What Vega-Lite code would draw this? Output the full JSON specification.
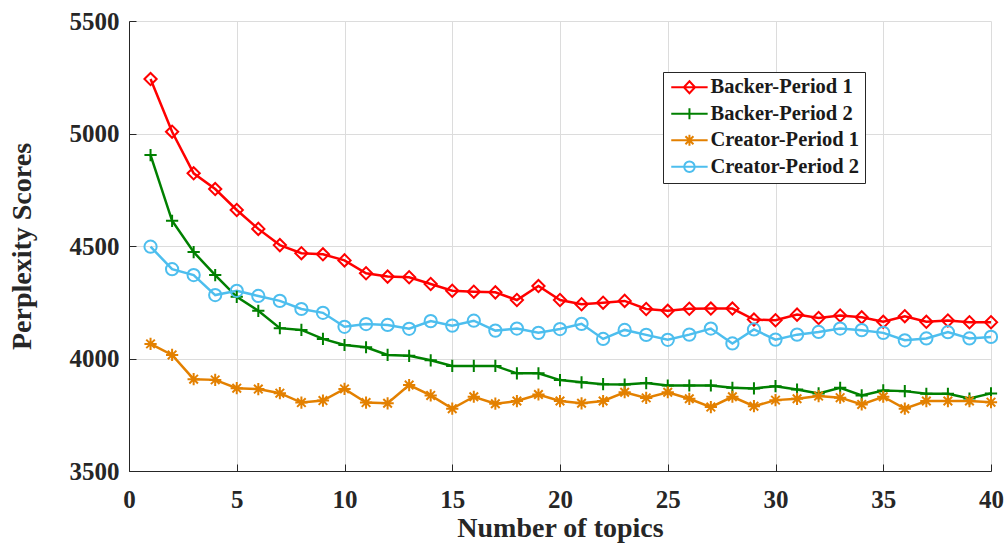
{
  "$schema": "https://vega.github.io/schema/vega-lite/v6.json",
  "autosize": {"type": "none"},
  "padding": {"left": 129, "top": 21, "right": 13, "bottom": 73},
  "width": 862,
  "height": 450,
  "background": "white",
  "config": {
    "view": {"stroke": null},
    "font": "Liberation Serif",
    "axis": {
      "labelFont": "Liberation Serif",
      "labelFontWeight": "bold",
      "labelFontSize": 25,
      "labelColor": "#262626",
      "titleFont": "Liberation Serif",
      "titleFontWeight": "bold",
      "titleFontSize": 28,
      "titleColor": "#262626",
      "domainColor": "#262626",
      "domainWidth": 1,
      "tickColor": "#262626",
      "tickSize": -7,
      "gridColor": "#dcdcdc",
      "gridWidth": 1
    }
  },
  "data": {
    "values": [
      {"topics": 1, "series": "Backer-Period 1", "score": 5242},
      {"topics": 2, "series": "Backer-Period 1", "score": 5008},
      {"topics": 3, "series": "Backer-Period 1", "score": 4823},
      {"topics": 4, "series": "Backer-Period 1", "score": 4753},
      {"topics": 5, "series": "Backer-Period 1", "score": 4660},
      {"topics": 6, "series": "Backer-Period 1", "score": 4576},
      {"topics": 7, "series": "Backer-Period 1", "score": 4504},
      {"topics": 8, "series": "Backer-Period 1", "score": 4468},
      {"topics": 9, "series": "Backer-Period 1", "score": 4463},
      {"topics": 10, "series": "Backer-Period 1", "score": 4436},
      {"topics": 11, "series": "Backer-Period 1", "score": 4379},
      {"topics": 12, "series": "Backer-Period 1", "score": 4364},
      {"topics": 13, "series": "Backer-Period 1", "score": 4361},
      {"topics": 14, "series": "Backer-Period 1", "score": 4331},
      {"topics": 15, "series": "Backer-Period 1", "score": 4301},
      {"topics": 16, "series": "Backer-Period 1", "score": 4297},
      {"topics": 17, "series": "Backer-Period 1", "score": 4294},
      {"topics": 18, "series": "Backer-Period 1", "score": 4260},
      {"topics": 19, "series": "Backer-Period 1", "score": 4322},
      {"topics": 20, "series": "Backer-Period 1", "score": 4260},
      {"topics": 21, "series": "Backer-Period 1", "score": 4241},
      {"topics": 22, "series": "Backer-Period 1", "score": 4248},
      {"topics": 23, "series": "Backer-Period 1", "score": 4256},
      {"topics": 24, "series": "Backer-Period 1", "score": 4220},
      {"topics": 25, "series": "Backer-Period 1", "score": 4212},
      {"topics": 26, "series": "Backer-Period 1", "score": 4221},
      {"topics": 27, "series": "Backer-Period 1", "score": 4222},
      {"topics": 28, "series": "Backer-Period 1", "score": 4222},
      {"topics": 29, "series": "Backer-Period 1", "score": 4173},
      {"topics": 30, "series": "Backer-Period 1", "score": 4170},
      {"topics": 31, "series": "Backer-Period 1", "score": 4195},
      {"topics": 32, "series": "Backer-Period 1", "score": 4180},
      {"topics": 33, "series": "Backer-Period 1", "score": 4191},
      {"topics": 34, "series": "Backer-Period 1", "score": 4183},
      {"topics": 35, "series": "Backer-Period 1", "score": 4163},
      {"topics": 36, "series": "Backer-Period 1", "score": 4188},
      {"topics": 37, "series": "Backer-Period 1", "score": 4163},
      {"topics": 38, "series": "Backer-Period 1", "score": 4169},
      {"topics": 39, "series": "Backer-Period 1", "score": 4161},
      {"topics": 40, "series": "Backer-Period 1", "score": 4161},

      {"topics": 1, "series": "Backer-Period 2", "score": 4904},
      {"topics": 2, "series": "Backer-Period 2", "score": 4612},
      {"topics": 3, "series": "Backer-Period 2", "score": 4473},
      {"topics": 4, "series": "Backer-Period 2", "score": 4371},
      {"topics": 5, "series": "Backer-Period 2", "score": 4274},
      {"topics": 6, "series": "Backer-Period 2", "score": 4212},
      {"topics": 7, "series": "Backer-Period 2", "score": 4135},
      {"topics": 8, "series": "Backer-Period 2", "score": 4127},
      {"topics": 9, "series": "Backer-Period 2", "score": 4087},
      {"topics": 10, "series": "Backer-Period 2", "score": 4060},
      {"topics": 11, "series": "Backer-Period 2", "score": 4050},
      {"topics": 12, "series": "Backer-Period 2", "score": 4016},
      {"topics": 13, "series": "Backer-Period 2", "score": 4012},
      {"topics": 14, "series": "Backer-Period 2", "score": 3992},
      {"topics": 15, "series": "Backer-Period 2", "score": 3967},
      {"topics": 16, "series": "Backer-Period 2", "score": 3967},
      {"topics": 17, "series": "Backer-Period 2", "score": 3967},
      {"topics": 18, "series": "Backer-Period 2", "score": 3934},
      {"topics": 19, "series": "Backer-Period 2", "score": 3934},
      {"topics": 20, "series": "Backer-Period 2", "score": 3904},
      {"topics": 21, "series": "Backer-Period 2", "score": 3894},
      {"topics": 22, "series": "Backer-Period 2", "score": 3886},
      {"topics": 23, "series": "Backer-Period 2", "score": 3884},
      {"topics": 24, "series": "Backer-Period 2", "score": 3891},
      {"topics": 25, "series": "Backer-Period 2", "score": 3880},
      {"topics": 26, "series": "Backer-Period 2", "score": 3880},
      {"topics": 27, "series": "Backer-Period 2", "score": 3880},
      {"topics": 28, "series": "Backer-Period 2", "score": 3870},
      {"topics": 29, "series": "Backer-Period 2", "score": 3867},
      {"topics": 30, "series": "Backer-Period 2", "score": 3877},
      {"topics": 31, "series": "Backer-Period 2", "score": 3862},
      {"topics": 32, "series": "Backer-Period 2", "score": 3845},
      {"topics": 33, "series": "Backer-Period 2", "score": 3870},
      {"topics": 34, "series": "Backer-Period 2", "score": 3836},
      {"topics": 35, "series": "Backer-Period 2", "score": 3858},
      {"topics": 36, "series": "Backer-Period 2", "score": 3855},
      {"topics": 37, "series": "Backer-Period 2", "score": 3843},
      {"topics": 38, "series": "Backer-Period 2", "score": 3843},
      {"topics": 39, "series": "Backer-Period 2", "score": 3822},
      {"topics": 40, "series": "Backer-Period 2", "score": 3845},

      {"topics": 1, "series": "Creator-Period 1", "score": 4065},
      {"topics": 2, "series": "Creator-Period 1", "score": 4016},
      {"topics": 3, "series": "Creator-Period 1", "score": 3908},
      {"topics": 4, "series": "Creator-Period 1", "score": 3905},
      {"topics": 5, "series": "Creator-Period 1", "score": 3868},
      {"topics": 6, "series": "Creator-Period 1", "score": 3864},
      {"topics": 7, "series": "Creator-Period 1", "score": 3846},
      {"topics": 8, "series": "Creator-Period 1", "score": 3804},
      {"topics": 9, "series": "Creator-Period 1", "score": 3813},
      {"topics": 10, "series": "Creator-Period 1", "score": 3865},
      {"topics": 11, "series": "Creator-Period 1", "score": 3804},
      {"topics": 12, "series": "Creator-Period 1", "score": 3801},
      {"topics": 13, "series": "Creator-Period 1", "score": 3882},
      {"topics": 14, "series": "Creator-Period 1", "score": 3836},
      {"topics": 15, "series": "Creator-Period 1", "score": 3777},
      {"topics": 16, "series": "Creator-Period 1", "score": 3830},
      {"topics": 17, "series": "Creator-Period 1", "score": 3799},
      {"topics": 18, "series": "Creator-Period 1", "score": 3811},
      {"topics": 19, "series": "Creator-Period 1", "score": 3840},
      {"topics": 20, "series": "Creator-Period 1", "score": 3811},
      {"topics": 21, "series": "Creator-Period 1", "score": 3801},
      {"topics": 22, "series": "Creator-Period 1", "score": 3811},
      {"topics": 23, "series": "Creator-Period 1", "score": 3850},
      {"topics": 24, "series": "Creator-Period 1", "score": 3825},
      {"topics": 25, "series": "Creator-Period 1", "score": 3850},
      {"topics": 26, "series": "Creator-Period 1", "score": 3821},
      {"topics": 27, "series": "Creator-Period 1", "score": 3784},
      {"topics": 28, "series": "Creator-Period 1", "score": 3830},
      {"topics": 29, "series": "Creator-Period 1", "score": 3788},
      {"topics": 30, "series": "Creator-Period 1", "score": 3815},
      {"topics": 31, "series": "Creator-Period 1", "score": 3821},
      {"topics": 32, "series": "Creator-Period 1", "score": 3833},
      {"topics": 33, "series": "Creator-Period 1", "score": 3826},
      {"topics": 34, "series": "Creator-Period 1", "score": 3796},
      {"topics": 35, "series": "Creator-Period 1", "score": 3830},
      {"topics": 36, "series": "Creator-Period 1", "score": 3777},
      {"topics": 37, "series": "Creator-Period 1", "score": 3811},
      {"topics": 38, "series": "Creator-Period 1", "score": 3811},
      {"topics": 39, "series": "Creator-Period 1", "score": 3811},
      {"topics": 40, "series": "Creator-Period 1", "score": 3806},

      {"topics": 1, "series": "Creator-Period 2", "score": 4497},
      {"topics": 2, "series": "Creator-Period 2", "score": 4397},
      {"topics": 3, "series": "Creator-Period 2", "score": 4371},
      {"topics": 4, "series": "Creator-Period 2", "score": 4282},
      {"topics": 5, "series": "Creator-Period 2", "score": 4301},
      {"topics": 6, "series": "Creator-Period 2", "score": 4278},
      {"topics": 7, "series": "Creator-Period 2", "score": 4256},
      {"topics": 8, "series": "Creator-Period 2", "score": 4220},
      {"topics": 9, "series": "Creator-Period 2", "score": 4203},
      {"topics": 10, "series": "Creator-Period 2", "score": 4141},
      {"topics": 11, "series": "Creator-Period 2", "score": 4153},
      {"topics": 12, "series": "Creator-Period 2", "score": 4149},
      {"topics": 13, "series": "Creator-Period 2", "score": 4132},
      {"topics": 14, "series": "Creator-Period 2", "score": 4166},
      {"topics": 15, "series": "Creator-Period 2", "score": 4146},
      {"topics": 16, "series": "Creator-Period 2", "score": 4168},
      {"topics": 17, "series": "Creator-Period 2", "score": 4124},
      {"topics": 18, "series": "Creator-Period 2", "score": 4133},
      {"topics": 19, "series": "Creator-Period 2", "score": 4114},
      {"topics": 20, "series": "Creator-Period 2", "score": 4131},
      {"topics": 21, "series": "Creator-Period 2", "score": 4154},
      {"topics": 22, "series": "Creator-Period 2", "score": 4087},
      {"topics": 23, "series": "Creator-Period 2", "score": 4127},
      {"topics": 24, "series": "Creator-Period 2", "score": 4105},
      {"topics": 25, "series": "Creator-Period 2", "score": 4083},
      {"topics": 26, "series": "Creator-Period 2", "score": 4106},
      {"topics": 27, "series": "Creator-Period 2", "score": 4133},
      {"topics": 28, "series": "Creator-Period 2", "score": 4067},
      {"topics": 29, "series": "Creator-Period 2", "score": 4129},
      {"topics": 30, "series": "Creator-Period 2", "score": 4084},
      {"topics": 31, "series": "Creator-Period 2", "score": 4106},
      {"topics": 32, "series": "Creator-Period 2", "score": 4118},
      {"topics": 33, "series": "Creator-Period 2", "score": 4133},
      {"topics": 34, "series": "Creator-Period 2", "score": 4126},
      {"topics": 35, "series": "Creator-Period 2", "score": 4114},
      {"topics": 36, "series": "Creator-Period 2", "score": 4081},
      {"topics": 37, "series": "Creator-Period 2", "score": 4089},
      {"topics": 38, "series": "Creator-Period 2", "score": 4117},
      {"topics": 39, "series": "Creator-Period 2", "score": 4089},
      {"topics": 40, "series": "Creator-Period 2", "score": 4096}
    ]
  },
  "encoding": {
    "x": {
      "field": "topics",
      "type": "quantitative",
      "scale": {"domain": [0, 40], "nice": false, "zero": false},
      "axis": {
        "title": "Number of topics",
        "values": [0, 5, 10, 15, 20, 25, 30, 35, 40],
        "format": "d",
        "labelPadding": 23,
        "titlePadding": 2,
        "grid": true,
        "labelFlush": false
      }
    },
    "y": {
      "field": "score",
      "type": "quantitative",
      "scale": {"domain": [3500, 5500], "nice": false, "zero": false},
      "axis": {
        "title": "Perplexity Scores",
        "values": [3500, 4000, 4500, 5000, 5500],
        "format": "d",
        "labelPadding": 17,
        "titlePadding": 33,
        "grid": true,
        "labelFlush": false
      }
    },
    "color": {
      "field": "series",
      "type": "nominal",
      "scale": {
        "domain": ["Backer-Period 1", "Backer-Period 2", "Creator-Period 1", "Creator-Period 2"],
        "range": ["#ff0000", "#008000", "#e38000", "#4dbeee"]
      },
      "legend": {
        "title": null,
        "orient": "none",
        "legendX": 534,
        "legendY": 51,
        "padding": 5,
        "strokeColor": "#262626",
        "fillColor": "white",
        "labelFont": "Liberation Serif",
        "labelFontWeight": "bold",
        "labelFontSize": 20.5,
        "labelColor": "#1a1a1a",
        "labelOffset": 22,
        "rowPadding": 5.5,
        "symbolSize": 196,
        "symbolStrokeWidth": 2,
        "labelLimit": 400
      }
    }
  },
  "layer": [
    {
      "mark": {"type": "line", "strokeWidth": 2.5},
      "encoding": {}
    },
    {
      "transform": [{"filter": "datum.series === 'Backer-Period 1'"}],
      "mark": {"type": "point", "shape": "diamond", "filled": false, "strokeWidth": 2, "opacity": 1, "size": 150},
      "encoding": {}
    },
    {
      "transform": [{"filter": "datum.series === 'Backer-Period 2'"}],
      "mark": {"type": "point", "shape": "M-1,0L1,0M0,-1L0,1", "filled": false, "strokeWidth": 2, "opacity": 1, "size": 150},
      "encoding": {}
    },
    {
      "transform": [{"filter": "datum.series === 'Creator-Period 1'"}],
      "mark": {"type": "point", "shape": "M-1,0L1,0M0,-1L0,1M-0.7,-0.7L0.7,0.7M-0.7,0.7L0.7,-0.7", "filled": false, "strokeWidth": 2, "opacity": 1, "size": 150},
      "encoding": {}
    },
    {
      "transform": [{"filter": "datum.series === 'Creator-Period 2'"}],
      "mark": {"type": "point", "shape": "circle", "filled": false, "strokeWidth": 2, "opacity": 1, "size": 150},
      "encoding": {}
    },
    {
      "transform": [{"filter": "datum.topics > 1000"}],
      "mark": {"type": "point", "filled": false, "strokeWidth": 2, "opacity": 1},
      "encoding": {
        "shape": {
          "field": "series",
          "type": "nominal",
          "scale": {
            "domain": ["Backer-Period 1", "Backer-Period 2", "Creator-Period 1", "Creator-Period 2"],
            "range": [
              "M-1,0L4.2,0M1.6,-0.85L2.4,0L1.6,0.85L0.8,0Z",
              "M-1,0L4.2,0M1.6,-0.8L1.6,0.8",
              "M-1,0L4.2,0M1.6,-0.8L1.6,0.8M1.03,-0.57L2.17,0.57M1.03,0.57L2.17,-0.57",
              "M-1,0L4.2,0M2.35,0A0.75,0.75 0 1 1 0.85,0A0.75,0.75 0 1 1 2.35,0"
            ]
          },
          "legend": {
            "title": null,
            "orient": "none",
            "legendX": 534,
            "legendY": 51,
            "padding": 5,
            "strokeColor": "#262626",
            "fillColor": "white",
            "labelFont": "Liberation Serif",
            "labelFontWeight": "bold",
            "labelFontSize": 20.5,
            "labelColor": "#1a1a1a",
            "labelOffset": 22,
            "rowPadding": 5.5,
            "symbolSize": 196,
            "symbolStrokeWidth": 2,
            "labelLimit": 400
          }
        }
      }
    }
  ]
}
